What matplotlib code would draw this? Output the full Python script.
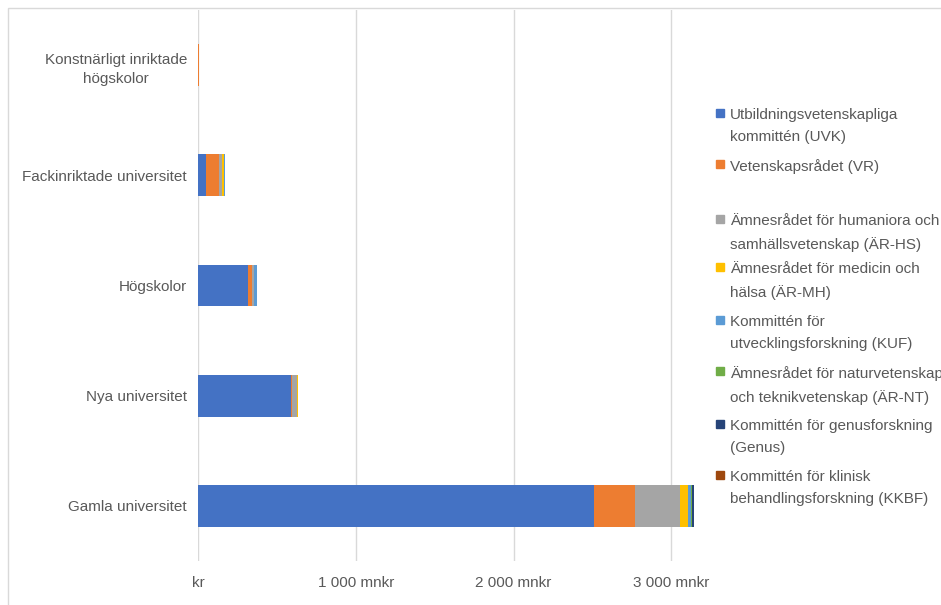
import matplotlib
matplotlib.use("Agg")
import matplotlib.pyplot as plt
from matplotlib.patches import Rectangle
import numpy as np

plt.rcParams['font.family'] = ['Liberation Sans', 'DejaVu Sans']

categories = ["Gamla universitet", "Nya universitet", "Högskolor",
              "Fackinriktade universitet", "Konstnärligt inriktade\nhögskolor"]

series_labels = [
    "Utbildningsvetenskapliga\nkommittén (UVK)",
    "Vetenskapsrådet (VR)",
    "Ämnesrådet för humaniora och\nsamhällsvetenskap (ÄR-HS)",
    "Ämnesrådet för medicin och\nhälsa (ÄR-MH)",
    "Kommittén för\nutvecklingsforskning (KUF)",
    "Ämnesrådet för naturvetenskap\noch teknikvetenskap (ÄR-NT)",
    "Kommittén för genusforskning\n(Genus)",
    "Kommittén för klinisk\nbehandlingsforskning (KKBF)",
]
colors = ["#4472C4", "#ED7D31", "#A5A5A5", "#FFC000", "#5B9BD5", "#70AD47", "#264478", "#9E480E"]

# values in mnkr, order: Gamla, Nya, Högskolor, Fackinriktade, Konstnärligt
UVK   = [2509, 591, 318, 51, 0]
VR    = [262,    4,  27, 80, 6]
AR_HS = [281,   34,  10, 21, 0]
AR_MH = [55,     2,   3, 15, 0]
KUF   = [19,     1,  17,  2, 0]
AR_NT = [4,      0,   0,  0, 0]
GENUS = [12,     0,   0,  0, 0]
KKBF  = [4,      0,   0,  0, 0]
series = [UVK, VR, AR_HS, AR_MH, KUF, AR_NT, GENUS, KKBF]

xticks = [0, 1000, 2000, 3000]
xticklabels = ["kr", "1 000 mnkr", "2 000 mnkr", "3 000 mnkr"]

W, H = 941, 605
fig = plt.figure(figsize=(W / 100, H / 100), dpi=100)
ax = fig.add_axes([198 / W, 1 - 561 / H, (703 - 198) / W, (561 - 10) / H])

y = np.arange(len(categories))
left = np.zeros(len(categories))
for vals, col in zip(series, colors):
    ax.barh(y, vals, left=left, height=0.38, color=col, zorder=3)
    left += np.array(vals)

ax.set_xlim(0, 3200)
ax.set_ylim(-0.5, len(categories) - 0.5)
ax.set_xticks(xticks)
ax.set_xticklabels(xticklabels)
ax.set_yticks(y)
ax.set_yticklabels(categories, multialignment='center', linespacing=1.5)
ax.tick_params(axis='both', length=0, colors='#595959', labelsize=11)
ax.tick_params(axis='x', pad=11)
ax.tick_params(axis='y', pad=8)
for s in ax.spines.values():
    s.set_visible(False)
ax.grid(axis='x', color='#D9D9D9', linewidth=1, zorder=0)
ax.set_axisbelow(True)

# chart border
fig.patches.append(Rectangle((8 / W, -0.1), 1.2, 1 - 8 / H + 0.1, transform=fig.transFigure,
                             fill=False, edgecolor='#D9D9D9', linewidth=1))

# legend (manual, Excel-like)
entry_tops = [113, 164, 219, 267, 320, 371, 424, 475]
for lab, col, ty in zip(series_labels, colors, entry_tops):
    fig.patches.append(Rectangle((716 / W, 1 - (ty + 4) / H), 8 / W, 8 / H,
                                 transform=fig.transFigure, color=col))
    fig.text(730 / W, 1 - (ty - 5) / H, lab, ha='left', va='top', fontsize=11,
             color='#595959', linespacing=1.72)

fig.savefig("out.png", dpi=100)
